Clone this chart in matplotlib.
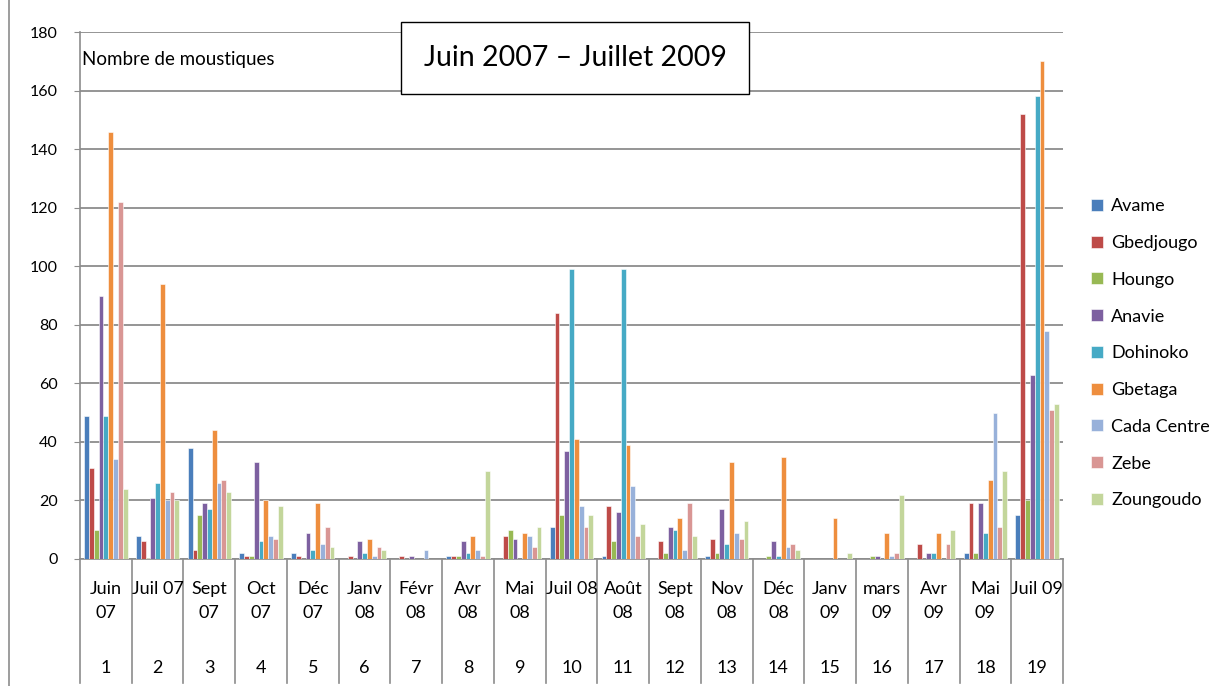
import numpy as np
import matplotlib.pyplot as plt
from matplotlib.lines import Line2D
import matplotlib.transforms as mtransforms

plt.rcParams['font.family'] = ['Lato', 'DejaVu Sans']

# donnees
mois = ['Juin\n07', 'Juil 07', 'Sept\n07', 'Oct\n07', 'Déc\n07', 'Janv\n08', 'Févr\n08',
        'Avr\n08', 'Mai\n08', 'Juil 08', 'Août\n08', 'Sept\n08', 'Nov\n08', 'Déc\n08',
        'Janv\n09', 'mars\n09', 'Avr\n09', 'Mai\n09', 'Juil 09']
numeros = [str(i) for i in range(1, 20)]

sites = ['Avame', 'Gbedjougo', 'Houngo', 'Anavie', 'Dohinoko', 'Gbetaga',
         'Cada Centre', 'Zebe', 'Zoungoudo']

avame     = [49, 8, 38, 2, 2, 0, 0, 1, 0, 11, 1, 0, 1, 0, 0, 0, 0, 2, 15]
gbedjougo = [31, 6, 3, 1, 1, 1, 1, 1, 8, 84, 18, 6, 7, 0, 0, 0, 5, 19, 152]
houngo    = [10, 0.5, 15, 1, 0, 0, 0, 1, 10, 15, 6, 2, 2, 1, 0, 1, 0, 2, 20]
anavie    = [90, 21, 19, 33, 9, 6, 1, 6, 7, 37, 16, 11, 17, 6, 0, 1, 2, 19, 63]
dohinoko  = [49, 26, 17, 6, 3, 2, 0, 2, 0, 99, 99, 10, 5, 1, 0, 0, 2, 9, 158]
gbetaga   = [146, 94, 44, 20, 19, 7, 0, 8, 9, 41, 39, 14, 33, 35, 14, 9, 9, 27, 170]
cada      = [34, 20, 26, 8, 5, 1, 3, 3, 8, 18, 25, 3, 9, 4, 0, 1, 0, 50, 78]
zebe      = [122, 23, 27, 7, 11, 4, 0, 1, 4, 11, 8, 19, 7, 5, 0, 2, 5, 11, 51]
zoungoudo = [24, 20, 23, 18, 4, 3, 0, 30, 11, 15, 12, 8, 13, 3, 2, 22, 10, 30, 53]

series = [avame, gbedjougo, houngo, anavie, dohinoko, gbetaga, cada, zebe, zoungoudo]
couleurs = ['#4A7EBB', '#BE4B48', '#98B954', '#7D60A0', '#46AAC5', '#EE8E3E',
            '#98B1DA', '#D99694', '#C3D69B']

fig = plt.figure(figsize=(12.21, 6.86), dpi=100)
W, H = 1221, 686
ax = fig.add_axes([80 / W, (H - 559) / H, (1063 - 80) / W, (559 - 32) / H])

x = np.arange(1, len(mois) + 1)
bw = 0.093
n = len(series)
for i, (vals, c) in enumerate(zip(series, couleurs)):
    ax.bar(x + (i - (n - 1) / 2) * bw, vals, width=bw, color=c,
           edgecolor='white', linewidth=0.4, label=sites[i], zorder=3)

ax.set_xlim(0.5, len(mois) + 0.5)
ax.set_ylim(0, 180)
ax.set_yticks(range(0, 181, 20))
ax.yaxis.grid(True, color='#8C8C8C', linewidth=1.3, zorder=0)
ax.set_xticks([])
ax.tick_params(axis='y', length=4, color='#8C8C8C', labelsize=11.5, pad=12)
for s in ['top', 'right']:
    ax.spines[s].set_visible(False)
ax.spines['left'].set_color('#8C8C8C')
ax.spines['bottom'].set_color('#8C8C8C')
ax.spines['left'].set_linewidth(1.2)
ax.spines['bottom'].set_linewidth(1.2)

# axe des categories a deux niveaux
trans = mtransforms.blended_transform_factory(ax.transData, ax.transAxes)
for k in range(len(mois) + 1):
    ax.add_line(Line2D([k + 0.5, k + 0.5], [0, -0.235], transform=trans,
                       color='#8C8C8C', linewidth=1.2, clip_on=False))
for xi, m, nb in zip(x, mois, numeros):
    ax.text(xi, -0.042, m, transform=trans, ha='center', va='top',
            fontsize=13, linespacing=1.6)
    ax.text(xi, -0.207, nb, transform=trans, ha='center', va='center',
            fontsize=13)

ax.text(82 / W, (H - 60) / H, 'Nombre de moustiques', transform=fig.transFigure,
        fontsize=13.5, va='center', ha='left')
fig.text(575 / W, (H - 58) / H, 'Juin 2007 – Juillet 2009', fontsize=20.5,
         ha='center', va='center',
         bbox=dict(boxstyle='square,pad=0.8', facecolor='white', edgecolor='black',
                   linewidth=1.0))

# bordure gauche de la zone du graphique
fig.add_artist(Line2D([9 / W, 9 / W], [0, 1], transform=fig.transFigure,
                      color='#8C8C8C', linewidth=1.2))

fig.legend(loc='upper left', bbox_to_anchor=(1084 / W, (H - 191) / H),
           frameon=False, fontsize=13, handlelength=0.65, handleheight=0.65,
           handletextpad=0.45, labelspacing=1.15, borderaxespad=0)

fig.savefig('out.png', dpi=100)
